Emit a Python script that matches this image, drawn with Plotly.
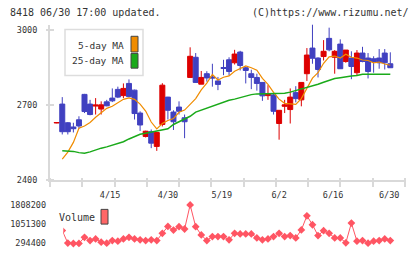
import plotly.graph_objects as go

W, H = 420, 259

# ---------------- data ----------------
open_p = [2628, 2704, 2629, 2612, 2641, 2743, 2704, 2696, 2684, 2713,
          2728, 2763, 2738, 2787, 2760, 2668, 2574, 2593, 2534, 2622,
          2732, 2672, 2692, 2649, 2811, 2892, 2784, 2826, 2813, 2797,
          2851, 2882, 2870, 2913, 2850, 2826, 2811, 2791, 2738, 2741,
          2626, 2695, 2682, 2750, 2721, 2826, 2929, 2889, 2895, 2968,
          2892, 2945, 2875, 2889, 2830, 2909, 2889, 2886, 2889, 2909,
          2866]
high_p = [2631, 2732, 2632, 2629, 2655, 2745, 2721, 2728, 2715, 2721,
          2767, 2774, 2787, 2803, 2762, 2675, 2597, 2602, 2592, 2788,
          2733, 2679, 2715, 2662, 2932, 2909, 2837, 2836, 2866, 2813,
          2882, 2892, 2922, 2918, 2855, 2842, 2826, 2791, 2780, 2745,
          2679, 2721, 2767, 2776, 2791, 2929, 3024, 2892, 2961, 3011,
          2921, 2964, 2921, 2916, 2921, 2934, 2909, 2896, 2925, 2925,
          2912]
low_p = [2627, 2582, 2582, 2590, 2605, 2668, 2659, 2662, 2662, 2695,
         2712, 2728, 2728, 2732, 2642, 2596, 2570, 2527, 2516, 2614,
         2642, 2600, 2662, 2567, 2810, 2790, 2784, 2794, 2774, 2760,
         2820, 2820, 2863, 2839, 2787, 2764, 2758, 2717, 2721, 2662,
         2561, 2668, 2626, 2711, 2695, 2797, 2866, 2811, 2879, 2916,
         2826, 2845, 2870, 2804, 2820, 2872, 2807, 2830, 2846, 2843,
         2850]
close_p = [2630, 2593, 2593, 2605, 2616, 2674, 2662, 2700, 2701, 2697,
           2717, 2732, 2767, 2734, 2666, 2620, 2595, 2547, 2590, 2780,
           2679, 2633, 2675, 2633, 2896, 2791, 2811, 2809, 2809, 2783,
           2847, 2835, 2905, 2859, 2839, 2811, 2787, 2737, 2743, 2675,
           2679, 2701, 2732, 2726, 2791, 2901, 2888, 2843, 2916, 2922,
           2916, 2846, 2921, 2855, 2909, 2875, 2835, 2875, 2870, 2870,
           2850]
ma5 = [None, 2483, 2511, 2550, 2607, 2616, 2630, 2651, 2671, 2687,
       2695, 2709, 2723, 2729, 2723, 2704, 2676, 2632, 2604, 2626,
       2638, 2646, 2671, 2680, 2703, 2726, 2761, 2788, 2823, 2801,
       2812, 2817, 2836, 2846, 2857, 2850, 2840, 2807, 2783, 2751,
       2724, 2707, 2706, 2703, 2726, 2770, 2808, 2830, 2868, 2894,
       2897, 2889, 2904, 2892, 2889, 2881, 2879, 2870, 2873, 2865,
       2860]
ma25 = [None, 2517, 2517, 2514, 2509, 2507, 2512, 2520, 2527, 2532,
        2538, 2545, 2553, 2564, 2575, 2583, 2587, 2591, 2594, 2598,
        2605, 2622, 2633, 2642, 2655, 2672, 2680, 2687, 2696, 2705,
        2712, 2719, 2724, 2731, 2738, 2742, 2745, 2745, 2745, 2745,
        2746, 2748, 2752, 2758, 2764, 2770, 2778, 2784, 2792, 2800,
        2807, 2810, 2815, 2817, 2819, 2824, 2824, 2824, 2824, 2824,
        2824]
volume = [700000, 803000, 310000, 294400, 298000, 539000, 411000, 476000, 346000, 306000,
          411000, 385000, 476000, 539000, 476000, 437000, 411000, 437000, 411000, 694000,
          966000, 820000, 954000, 864000, 1808200, 954000, 632000, 411000, 566000, 566000,
          566000, 437000, 694000, 671000, 671000, 671000, 515000, 437000, 476000, 566000,
          694000, 566000, 605000, 515000, 826000, 1381000, 1032000, 605000, 799000, 694000,
          515000, 515000, 321000, 1098000, 385000, 411000, 306000, 385000, 411000, 476000,
          411000]
date_labels = ["4/15", "4/30", "5/19", "6/2", "6/16", "6/30"]
price_ticks = [2400, 2700, 3000]
vol_ticks = [294400, 1051300, 1808200]

# ---------------- layout helpers ----------------
date_label_pos = [9.6, 20.0, 29.7, 40.0, 49.7, 59.8]
idx = list(range(len(close_p)))


def fx(px):
    return px / W


def fy(py):
    return 1 - py / H


RED = "#dd0000"
BLUE = "#4040c0"
ORANGE = "#f08c00"
GREEN = "#1aaa1a"
VOLC = "#ff5563"
AXIS = "#d9d9d9"
TXT = "#333333"
FONT = "DejaVu Sans Mono"

fig = go.Figure()
fig.add_trace(go.Candlestick(
    x=idx, open=open_p, high=high_p, low=low_p, close=close_p,
    increasing=dict(line=dict(color=RED, width=1), fillcolor=RED),
    decreasing=dict(line=dict(color=BLUE, width=1), fillcolor=BLUE),
    whiskerwidth=0, xaxis="x", yaxis="y", hoverinfo="skip"))
fig.add_trace(go.Scatter(x=idx, y=ma5, mode="lines",
                         line=dict(color=ORANGE, width=1.2),
                         xaxis="x", yaxis="y", hoverinfo="skip"))
fig.add_trace(go.Scatter(x=idx, y=ma25, mode="lines",
                         line=dict(color=GREEN, width=1.5),
                         xaxis="x", yaxis="y", hoverinfo="skip"))
fig.add_trace(go.Scatter(x=idx, y=volume, mode="lines+markers",
                         line=dict(color=VOLC, width=1),
                         marker=dict(symbol="diamond", size=6, color=VOLC),
                         xaxis="x2", yaxis="y2", hoverinfo="skip"))
# empty traces to register overlay tick axes
fig.add_trace(go.Scatter(x=[], y=[], xaxis="x3", yaxis="y", hoverinfo="skip"))
fig.add_trace(go.Scatter(x=[], y=[], xaxis="x", yaxis="y3", hoverinfo="skip"))

# pixel geometry
x_left, x_right = 50, 405
i0_px, step_px = 56.7, 5.56
xr = [(x_left - i0_px) / step_px, (x_right - i0_px) / step_px]
y_top, y_bot = 25, 183.3
p_per_px = 600 / (183.3 - 31)
yr = [2400, 3000 + (31 - y_top) * p_per_px]

vmin_px, vmax_px = 248.3, 209
v_per_px = (vol_ticks[2] - vol_ticks[0]) / (vmin_px - vmax_px)
pad = 6
vr = [vol_ticks[0] - pad * v_per_px, vol_ticks[2] + pad * v_per_px]
vx_left = 63.3
vxr = [(vx_left - i0_px) / step_px, xr[1]]

fig.update_layout(
    width=W, height=H, margin=dict(l=0, r=0, t=0, b=0),
    paper_bgcolor="white", plot_bgcolor="white", showlegend=False,
    font=dict(family=FONT, size=8, color=TXT),
    boxgap=0.1, boxgroupgap=0,
    xaxis=dict(domain=[fx(x_left), fx(x_right)], range=xr, anchor="y",
               showline=True, linecolor=AXIS, linewidth=2, mirror=False,
               ticks="", tickvals=date_label_pos, ticktext=date_labels,
               ticklabelstandoff=6, tickfont=dict(size=8.5, color=TXT),
               showgrid=False, zeroline=False, rangeslider=dict(visible=False)),
    yaxis=dict(domain=[fy(y_bot), fy(y_top)], range=yr, anchor="x",
               showline=True, linecolor=AXIS, linewidth=2,
               ticks="", tickvals=price_ticks, ticklabelstandoff=9,
               tickfont=dict(size=8.5, color=TXT),
               showgrid=False, zeroline=False),
    xaxis3=dict(overlaying="x", domain=[fx(x_left), fx(x_right)], range=[0, 11],
                tickvals=list(range(12)), ticks="outside", ticklen=9, tickwidth=2,
                tickcolor=AXIS, showticklabels=False, showline=False,
                showgrid=False, zeroline=False, anchor="free", position=fy(180)),
    yaxis3=dict(overlaying="y", domain=[fy(y_bot), fy(y_top)], range=yr,
                tickvals=price_ticks, ticks="outside", ticklen=8, tickwidth=2,
                tickcolor=AXIS, showticklabels=False, showline=False,
                showgrid=False, zeroline=False, side="right",
                anchor="free", position=fx(45)),
    xaxis2=dict(domain=[fx(vx_left), fx(x_right)], range=vxr, anchor="y2",
                visible=False),
    yaxis2=dict(domain=[fy(vmin_px + pad), fy(vmax_px - pad)], range=vr,
                anchor="free", position=fx(50), tickvals=vol_ticks,
                tickformat="d", ticks="", showline=False, showgrid=False,
                zeroline=False, ticklabelstandoff=4,
                tickfont=dict(size=8.5, color=TXT)),
)

shapes = [
    dict(type="rect", xref="paper", yref="paper", x0=fx(65), x1=fx(143),
         y0=fy(77), y1=fy(30), line=dict(color="#dddddd", width=1.5),
         fillcolor="white", layer="above"),
    dict(type="rect", xref="paper", yref="paper", x0=fx(131), x1=fx(138),
         y0=fy(53), y1=fy(37), line=dict(color="#444444", width=1),
         fillcolor=ORANGE, layer="above"),
    dict(type="rect", xref="paper", yref="paper", x0=fx(131), x1=fx(138),
         y0=fy(69.5), y1=fy(54.5), line=dict(color="#444444", width=1),
         fillcolor=GREEN, layer="above"),
    dict(type="rect", xref="paper", yref="paper", x0=fx(101), x1=fx(108),
         y0=fy(228.5), y1=fy(213.5), line=dict(color="#444444", width=1),
         fillcolor="#ff6666", layer="above"),
]
fig.update_layout(shapes=shapes)

ann = [
    dict(text="8418 06/30 17:00 updated.", x=fx(8), y=fy(13), xanchor="left",
         font=dict(size=10, color=TXT)),
    dict(text="(C)https://www.rizumu.net/", x=fx(411), y=fy(13), xanchor="right",
         font=dict(size=10, color=TXT)),
    dict(text="5-day MA", x=fx(126), y=fy(46), xanchor="right",
         font=dict(size=9.5, color=TXT)),
    dict(text="25-day MA", x=fx(126), y=fy(62), xanchor="right",
         font=dict(size=9.5, color=TXT)),
    dict(text="Volume", x=fx(57), y=fy(221.5), xanchor="left",
         font=dict(size=10, color=TXT)),
]
for a in ann:
    a.update(xref="paper", yref="paper", yanchor="middle", showarrow=False)
fig.update_layout(annotations=ann)

fig.write_html("out.html")
